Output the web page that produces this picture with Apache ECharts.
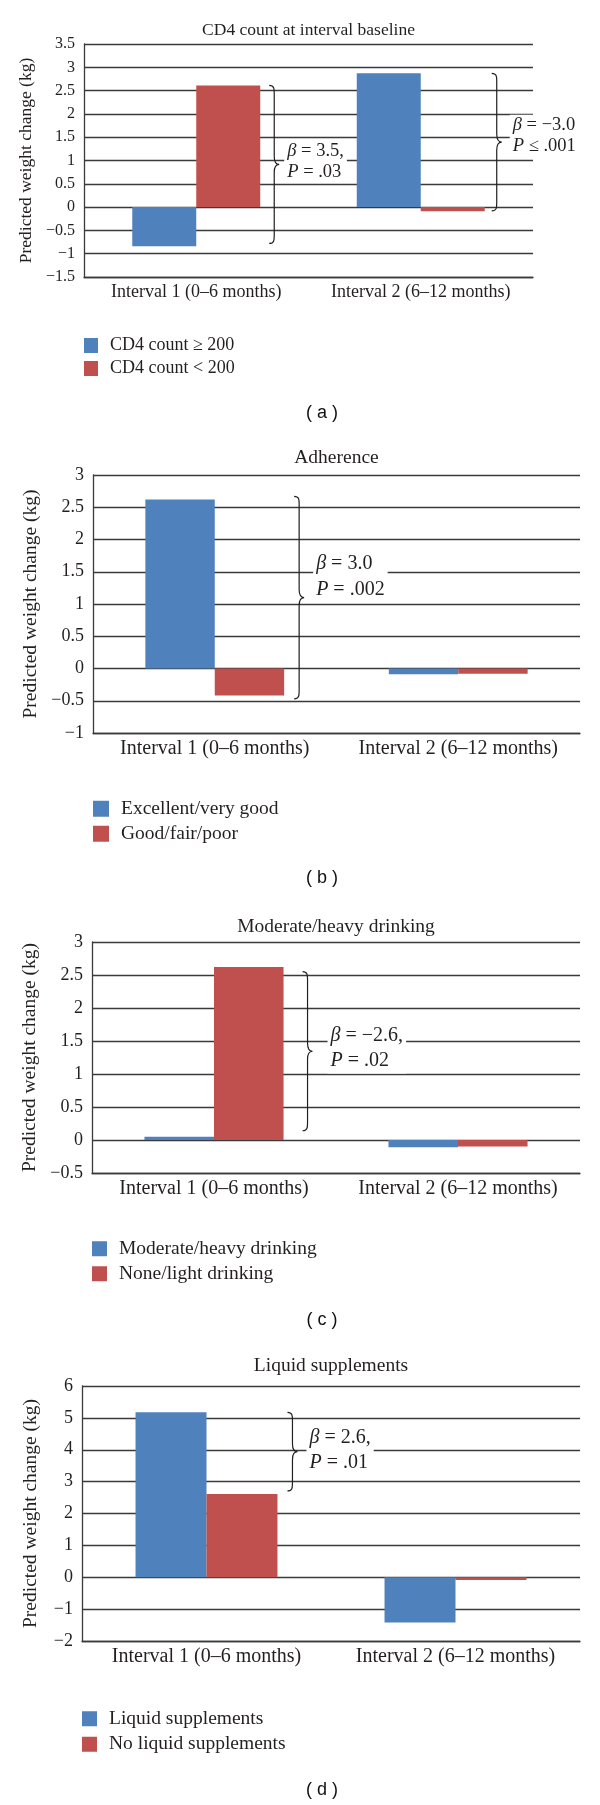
<!DOCTYPE html>
<html><head><meta charset="utf-8">
<script src="https://cdn.jsdelivr.net/npm/echarts@6/dist/echarts.min.js"></script>
<style>html,body{margin:0;padding:0;background:#fff}#c{width:600px;height:1805px}</style>
</head><body><div id="c"></div>
<script>
// ---------- data ----------
const categories = ['Interval 1 (0–6 months)', 'Interval 2 (6–12 months)'];

const titleA = 'CD4 count at interval baseline';
const namesA = ['CD4 count ≥ 200', 'CD4 count < 200'];
const blueA = [-0.84, 2.87];
const redA = [2.61, -0.09];
const yTicksA = [-1.5, 3.5, 0.5];           // min, max, step
const notesA = [                             // category, brace from, brace to, text centre, beta, P
  [0, 2.61, -0.78, 0.97, '3.5,', '= .03'],
  [1, 2.87, -0.08, 1.53, '−3.0', '≤ .001']
];

const titleB = 'Adherence';
const namesB = ['Excellent/very good', 'Good/fair/poor'];
const blueB = [2.62, -0.09];
const redB = [-0.42, -0.08];
const yTicksB = [-1, 3, 0.5];
const notesB = [[0, 2.67, -0.47, 1.43, '3.0', '= .002']];

const titleC = 'Moderate/heavy drinking';
const namesC = ['Moderate/heavy drinking', 'None/light drinking'];
const blueC = [0.05, -0.11];
const redC = [2.62, -0.10];
const yTicksC = [-0.5, 3, 0.5];
const notesC = [[0, 2.55, 0.14, 1.385, '−2.6,', '= .02']];

const titleD = 'Liquid supplements';
const namesD = ['Liquid supplements', 'No liquid supplements'];
const blueD = [5.18, -1.42];
const redD = [2.61, -0.09];
const yTicksD = [-2, 6, 1];
const notesD = [[0, 5.17, 2.71, 3.97, '2.6,', '= .01']];

const captions = ['( a )', '( b )', '( c )', '( d )'];
const yName = 'Predicted weight change (kg)';

// ---------- layout / style ----------
const SERIF = "'Liberation Serif', 'Times New Roman', serif";
const INK = '#231f20';
const BLUE = '#4F81BD', RED = '#C0504D';
const GAP = 0.43;
const panels = [
  {title: titleA, names: namesA, blue: blueA, red: redA, ticks: yTicksA, notes: notesA,
   grid: {left: 84, top: 44, width: 449, height: 233}, titleY: 30, capY: 413,
   fs: 17.5, catFs: 18, lgFs: 18, noteFs: 18.5, tickFs: 16,
   lgCenter: 345.5, lgStep: 23, sq: [14, 15], nameGap: 45, braceDx: [9, 7], textDx: [15, 18], noteLH: 21},
  {title: titleB, names: namesB, blue: blueB, red: redB, ticks: yTicksB, notes: notesB,
   grid: {left: 93, top: 475, width: 487, height: 258}, titleY: 458, capY: 878,
   fs: 19.5, catFs: 20, lgFs: 19.5, noteFs: 20, tickFs: 18,
   lgCenter: 808.5, lgStep: 24.5, sq: [16, 16], nameGap: 52, braceDx: [10], textDx: [19], noteLH: 26},
  {title: titleC, names: namesC, blue: blueC, red: redC, ticks: yTicksC, notes: notesC,
   grid: {left: 92, top: 942, width: 488, height: 231}, titleY: 927, capY: 1320,
   fs: 19.5, catFs: 20, lgFs: 19.5, noteFs: 20, tickFs: 18,
   lgCenter: 1248.5, lgStep: 24.5, sq: [15, 15], nameGap: 51, braceDx: [19], textDx: [25], noteLH: 25},
  {title: titleD, names: namesD, blue: blueD, red: redD, ticks: yTicksD, notes: notesD,
   grid: {left: 82, top: 1386, width: 498, height: 255}, titleY: 1366, capY: 1790,
   fs: 19.5, catFs: 20, lgFs: 19.5, noteFs: 20, tickFs: 18,
   lgCenter: 1718.5, lgStep: 25, sq: [15, 15], nameGap: 41, braceDx: [10], textDx: [19], noteLH: 25}
];

function bracePath(x, y1, y2) {
  const ym = (y1 + y2) / 2, s = 5, t = 10;
  const r = Math.min(8, (y2 - y1) / 5);
  return 'M' + x + ',' + y1 +
    ' C' + (x + s) + ',' + y1 + ' ' + (x + s) + ',' + (y1 + r * 0.4) + ' ' + (x + s) + ',' + (y1 + r) +
    ' L' + (x + s) + ',' + (ym - r) +
    ' C' + (x + s) + ',' + (ym - r * 0.35) + ' ' + (x + s + 2) + ',' + ym + ' ' + (x + t) + ',' + ym +
    ' C' + (x + s + 2) + ',' + ym + ' ' + (x + s) + ',' + (ym + r * 0.35) + ' ' + (x + s) + ',' + (ym + r) +
    ' L' + (x + s) + ',' + (y2 - r) +
    ' C' + (x + s) + ',' + (y2 - r * 0.4) + ' ' + (x + s) + ',' + y2 + ' ' + x + ',' + y2;
}

const fmt = v => (v < 0 ? '\u2212' + Math.abs(v) : String(v));
const lineStyle = {color: '#3a3a3a', width: 1.3};

const option = {animation: false, grid: [], xAxis: [], yAxis: [], series: [], legend: [], graphic: []};

panels.forEach((P, i) => {
  option.grid.push(Object.assign({containLabel: false}, P.grid));
  option.xAxis.push({
    type: 'category', gridIndex: i, data: categories,
    axisLine: {show: true, onZero: false, lineStyle: lineStyle},
    axisTick: {show: false},
    axisLabel: {margin: 6, color: INK, fontFamily: SERIF, fontSize: P.catFs, interval: 0},
    splitLine: {show: false}
  });
  option.yAxis.push({
    type: 'value', gridIndex: i, min: P.ticks[0], max: P.ticks[1], interval: P.ticks[2],
    name: yName, nameLocation: 'middle', nameRotate: 90, nameGap: P.nameGap,
    nameTextStyle: {color: INK, fontFamily: SERIF, fontSize: P.fs},
    axisLine: {show: true, lineStyle: lineStyle},
    axisTick: {show: false},
    axisLabel: {margin: 9, color: INK, fontFamily: SERIF, fontSize: P.tickFs, formatter: fmt},
    splitLine: {show: true, lineStyle: lineStyle}
  });
  [[P.names[0], P.blue, BLUE], [P.names[1], P.red, RED]].forEach(([name, data, color]) => {
    option.series.push({
      type: 'bar', name: name, xAxisIndex: i, yAxisIndex: i, data: data,
      barGap: '0%', barCategoryGap: (GAP * 100) + '%',
      itemStyle: {color: color}, silent: true
    });
  });
  const notes = P.notes;
  option.series.push({
    type: 'custom', xAxisIndex: i, yAxisIndex: i, silent: true, clip: false, z: 5,
    data: notes.map(n => [n[0], n[1], n[2], n[3]]),
    encode: {x: 0, y: [1, 2, 3]},
    renderItem: function (params, api) {
      const k = params.dataIndex, n = notes[k];
      const band = api.size([1, 0])[0];
      const cx = api.coord([n[0], 0])[0];
      const yTop = api.coord([n[0], n[1]])[1];
      const yBot = api.coord([n[0], n[2]])[1];
      const yTxt = api.coord([n[0], n[3]])[1];
      const barRight = cx + band * (1 - GAP) / 2;
      const x0 = barRight + P.braceDx[k];
      return {type: 'group', children: [
        {type: 'path', shape: {pathData: bracePath(x0, yTop, yBot)},
         style: {fill: null, stroke: INK, lineWidth: 1.2}},
        {type: 'text', x: x0 + P.textDx[k], y: yTxt,
         style: {
           text: '{i|β} = ' + n[4] + '\n{i|P} ' + n[5],
           fill: INK, fontFamily: SERIF, fontSize: P.noteFs, lineHeight: P.noteLH,
           align: 'left', verticalAlign: 'middle',
           backgroundColor: '#fff', padding: [0, 3],
           rich: {i: {fontStyle: 'italic', fontFamily: SERIF, fontSize: P.noteFs, lineHeight: P.noteLH, fill: INK}}
         }}
      ]};
    }
  });
  const LH = Math.max(P.lgFs, P.sq[1]);
  option.legend.push({
    orient: 'vertical', left: P.grid.left, top: P.lgCenter - LH / 2, padding: 0,
    itemWidth: P.sq[0], itemHeight: P.sq[1], itemGap: P.lgStep - LH, icon: 'rect',
    selectedMode: false, data: P.names,
    textStyle: {color: INK, fontFamily: SERIF, fontSize: P.lgFs, lineHeight: LH, padding: [0, 0, 0, 7]}
  });
  option.graphic.push({
    type: 'text', x: P.grid.left + P.grid.width / 2, y: P.titleY,
    style: {text: P.title, fill: INK, fontFamily: SERIF, fontSize: P.fs, align: 'center', verticalAlign: 'middle'}
  });
  option.graphic.push({
    type: 'text', x: 322, y: P.capY,
    style: {text: captions[i], fill: '#111', fontFamily: "'Liberation Sans', Arial, sans-serif", fontSize: 18, align: 'center', verticalAlign: 'middle'}
  });
});

const chart = echarts.init(document.getElementById('c'), null, {renderer: 'canvas'});
chart.setOption(option);
</script></body></html>
